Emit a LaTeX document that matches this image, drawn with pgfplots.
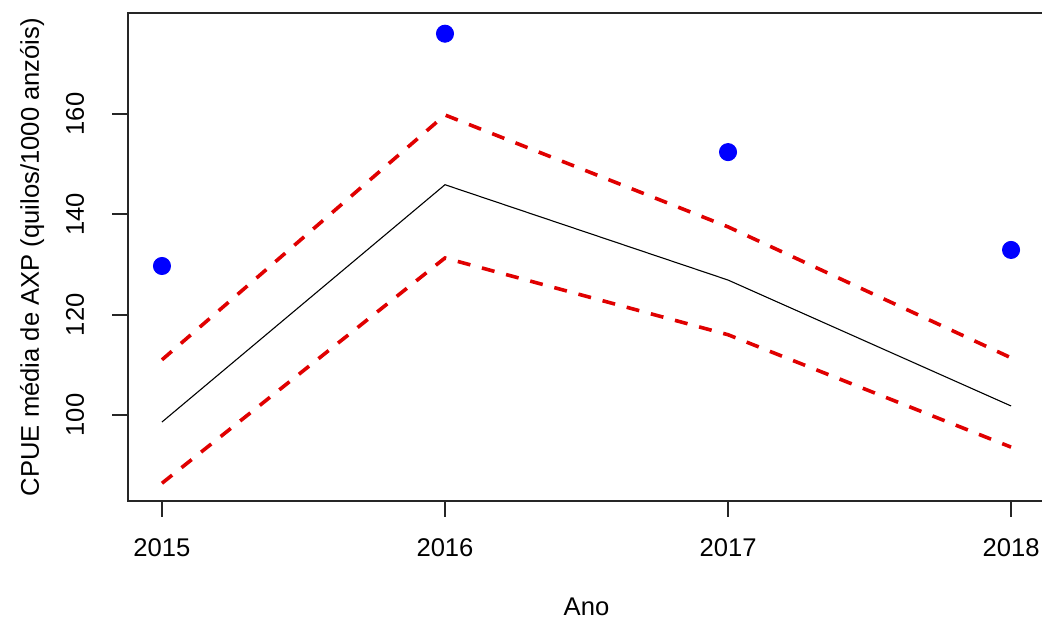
\documentclass[border=0pt]{standalone}
\usepackage{pgfplots}
\pgfplotsset{compat=1.18}
\usepackage{fontspec}
\setmainfont{Liberation Sans}

\begin{document}
\fontsize{12.8}{15}\selectfont
\begin{tikzpicture}
\begin{axis}[
  at={(0,0)}, anchor=south west,
  scale only axis, width=458.5pt, height=244pt,
  xmin=2014.88, xmax=2018.12, ymin=82.86, ymax=180.13,
  axis line style={line width=0.9pt, black!85},
  xtick={2015,2016,2017,2018}, ytick={100,120,140,160},
  xticklabel style={/pgf/number format/1000 sep={}, anchor=north, yshift=-6.5pt},
  yticklabel style={xshift=-9.5pt, rotate=90, anchor=south},
  /pgf/number format/assume math mode=true,
  tick align=outside, tick pos=left, major tick length=8pt,
  tick style={line width=0.9pt, black!85},
  xlabel={Ano}, ylabel={CPUE média de AXP (quilos/1000 anzóis)},
  every axis x label/.style={at={(axis description cs:0.5,-0.2172)}, anchor=center},
  every axis y label/.style={at={(axis description cs:-0.1047,0.5)}, rotate=90, anchor=center},
  clip=false,
]
\addplot[black, line width=0.55pt] coordinates {(2015,98.6) (2016,145.9) (2017,126.9) (2018,101.8)};
\addplot[red!88!black, line width=1.8pt, dash pattern=on 6.5pt off 6pt] coordinates {(2015,111.0) (2016,159.8) (2017,137.5) (2018,111.4)};
\addplot[red!88!black, line width=1.8pt, dash pattern=on 6.5pt off 6pt] coordinates {(2015,86.4) (2016,131.3) (2017,116.0) (2018,93.6)};
\addplot[only marks, mark=*, mark size=4.3pt, blue, mark options={fill=blue, draw=blue}] coordinates {(2015,129.7) (2016,176.0) (2017,152.4) (2018,132.9)};
\end{axis}
\pgfresetboundingbox
\path[use as bounding box] (-64pt,-59pt) rectangle (457pt,250.5pt);
\end{tikzpicture}
\end{document}
